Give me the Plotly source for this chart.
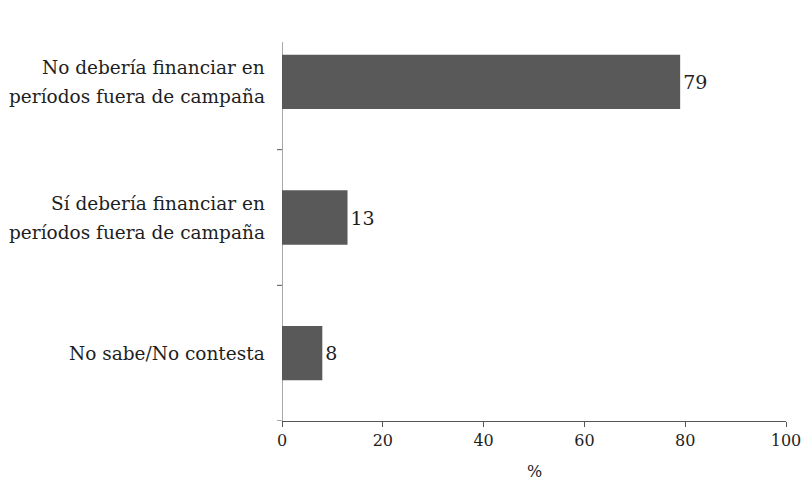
import plotly.graph_objects as go

categories = [
    "No debería financiar en|períodos fuera de campaña",
    "Sí debería financiar en|períodos fuera de campaña",
    "No sabe/No contesta",
]
values = [79, 13, 8]
x_ticks = [0, 20, 40, 60, 80, 100]

FONT = "DejaVu Serif"
AXIS_COLOR = "#555555"
TEXT_COLOR = "#1e1e1e"
LINE_GAP = 29  # px between the two lines of a category label

fig = go.Figure(
    go.Bar(
        x=values,
        y=list(range(len(categories))),
        orientation="h",
        width=0.4,
        marker=dict(color="#595959", line=dict(width=0)),
        text=[str(v) for v in values],
        textposition="outside",
        textfont=dict(family=FONT, size=19, color=TEXT_COLOR),
        cliponaxis=False,
    )
)

fig.update_layout(
    width=808,
    height=483,
    margin=dict(l=282, r=22, t=14, b=62, autoexpand=False),
    plot_bgcolor="white",
    paper_bgcolor="white",
    showlegend=False,
    font=dict(family=FONT, size=16, color=TEXT_COLOR),
)

fig.update_xaxes(
    range=[0, 100],
    tickvals=x_ticks,
    ticktext=[str(t) for t in x_ticks],
    automargin=False,
    showgrid=False,
    zeroline=False,
    showline=True,
    linecolor=AXIS_COLOR,
    linewidth=1,
    ticks="outside",
    ticklen=5,
    tickcolor=AXIS_COLOR,
    tickfont=dict(family=FONT, size=16, color=TEXT_COLOR),
)

fig.update_yaxes(
    range=[len(categories) - 0.5, -0.5],
    automargin=False,
    showgrid=False,
    zeroline=False,
    showline=False,
    showticklabels=False,
    ticks="",
)

# x-axis title
fig.add_annotation(
    x=50, xref="x", y=0, yref="paper", yanchor="middle", yshift=-50,
    text="%", showarrow=False,
    font=dict(family=FONT, size=16, color=TEXT_COLOR),
)

# category labels, one annotation per line, right-aligned next to the axis
for i, label in enumerate(categories):
    lines = label.split("|")
    n = len(lines)
    for j, line in enumerate(lines):
        offset = ((n - 1) / 2 - j) * LINE_GAP
        fig.add_annotation(
            x=0, xref="paper", xanchor="right", xshift=-15,
            y=i, yref="y", yanchor="middle", yshift=offset,
            text=line, showarrow=False,
            font=dict(family=FONT, size=18.5, color=TEXT_COLOR),
        )

# vertical axis line starting a little below the top of the first band
fig.add_shape(
    type="line",
    xref="x", yref="paper",
    x0=0, x1=0, y0=0, y1=(421 - 42) / 407,
    line=dict(color=AXIS_COLOR, width=1),
)

# small outward ticks on the category boundaries
for b in [0.5, 1.5, 2.5]:
    fig.add_shape(
        type="line",
        xref="paper", yref="y",
        x0=-5 / 504, x1=0, y0=b, y1=b,
        line=dict(color=AXIS_COLOR, width=1),
    )

fig.write_html("out.html")
